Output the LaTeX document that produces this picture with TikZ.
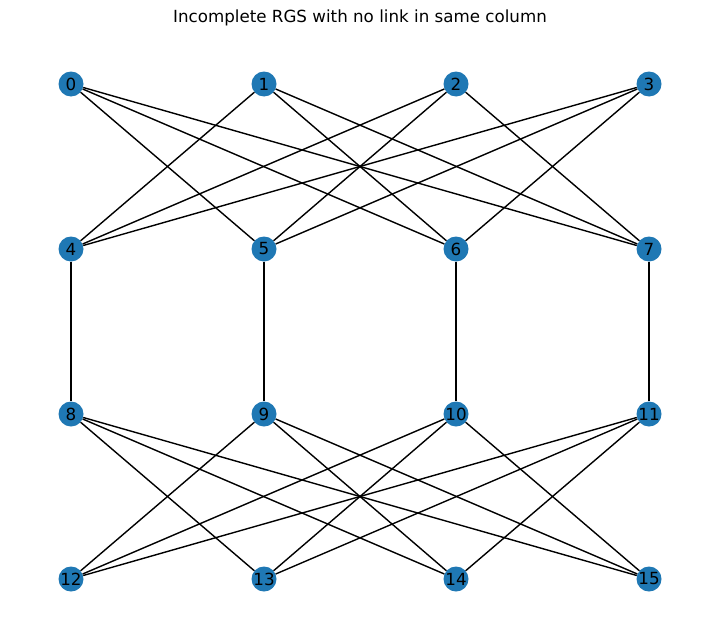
\documentclass[tikz,border=0pt]{standalone}
\usepackage{fontspec}
\setmainfont{DejaVu Sans}
\usepackage{tikz}
\usepackage{xcolor}
\usetikzlibrary{positioning}

\definecolor{nodeblue}{HTML}{1F78B4}

\begin{document}
\begin{tikzpicture}[x=1pt, y=-1pt,
  vertex/.style={circle, fill=nodeblue, minimum size=25pt, inner sep=0pt, font=\fontsize{16.7}{18}\selectfont},
  link/.style={line width=1.4pt, black}]
\useasboundingbox (0,0) rectangle (719,642);

% title
\node[font=\fontsize{16.7}{18}\selectfont] (title) at (360,18) {Incomplete RGS with no link in same column};

% row 1
\node[vertex] (n0) at (71,84) {0};
\node[vertex] (n1) at (264,84) {1};
\node[vertex] (n2) at (456,84) {2};
\node[vertex] (n3) at (649,84) {3};
% row 2
\node[vertex] (n4) at (71,249) {4};
\node[vertex] (n5) at (264,249) {5};
\node[vertex] (n6) at (456,249) {6};
\node[vertex] (n7) at (649,249) {7};
% row 3
\node[vertex] (n8) at (71,414) {8};
\node[vertex] (n9) at (264,414) {9};
\node[vertex] (n10) at (456,414) {10};
\node[vertex] (n11) at (649,414) {11};
% row 4
\node[vertex] (n12) at (71,579) {12};
\node[vertex] (n13) at (264,579) {13};
\node[vertex] (n14) at (456,579) {14};
\node[vertex] (n15) at (649,579) {15};

% links, top half
\draw[link] (n0) -- (n5);
\draw[link] (n0) -- (n6);
\draw[link] (n0) -- (n7);
\draw[link] (n1) -- (n4);
\draw[link] (n1) -- (n6);
\draw[link] (n1) -- (n7);
\draw[link] (n2) -- (n4);
\draw[link] (n2) -- (n5);
\draw[link] (n2) -- (n7);
\draw[link] (n3) -- (n4);
\draw[link] (n3) -- (n5);
\draw[link] (n3) -- (n6);

% columns
\draw[link] (n4) -- (n8);
\draw[link] (n5) -- (n9);
\draw[link] (n6) -- (n10);
\draw[link] (n7) -- (n11);

% links, bottom half
\draw[link] (n8) -- (n13);
\draw[link] (n8) -- (n14);
\draw[link] (n8) -- (n15);
\draw[link] (n9) -- (n12);
\draw[link] (n9) -- (n14);
\draw[link] (n9) -- (n15);
\draw[link] (n10) -- (n12);
\draw[link] (n10) -- (n13);
\draw[link] (n10) -- (n15);
\draw[link] (n11) -- (n12);
\draw[link] (n11) -- (n13);
\draw[link] (n11) -- (n14);
\end{tikzpicture}
\end{document}
